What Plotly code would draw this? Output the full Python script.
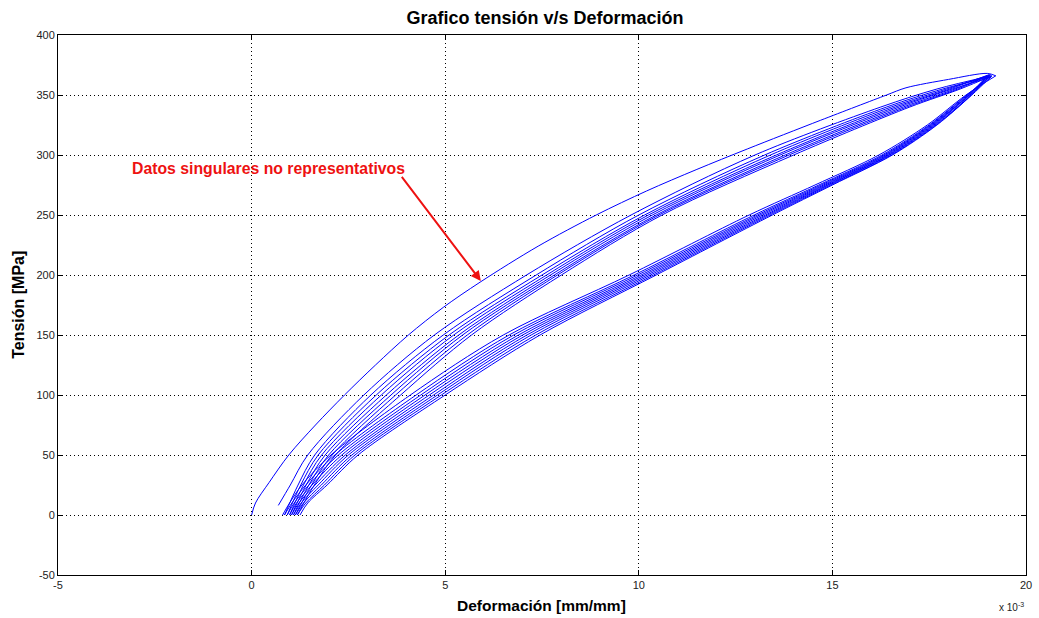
import plotly.graph_objects as go

# ---------------- data (strain in units of 1e-3 mm/mm, stress in MPa) -------------
# first (outer) loading curve
first_load_strain = [0, 0.10, 0.45, 0.96, 1.65, 2.4, 3.2, 4.05, 4.95, 5.9, 7.4, 8.9,
                     10.2, 11.5, 12.8, 14.7, 16.4, 16.9, 18.0, 19.0, 19.22]
first_load_stress = [0, 10, 27, 50, 75, 100, 125, 150, 173, 194, 224, 250,
                     270, 288, 305, 329, 350, 356, 363, 368, 366]

# later loading curves, read at these stress levels
load_levels = [25, 50, 100, 150, 200, 250, 300, 340, 355]
load_start_strain = [0.69, 0.85, 0.92, 0.98, 1.03, 1.08, 1.13, 1.18]
load_start_stress = [8, 0, 0, 0, 0, 0, 0, 0]
load_L2 = [1.00, 1.45, 2.90, 4.72, 7.10, 9.80, 13.00, 16.25, 17.70]
load_L3 = [1.20, 1.63, 3.08, 4.95, 7.35, 10.00, 13.25, 16.40, 17.85]
load_L4 = [1.27, 1.72, 3.22, 5.10, 7.50, 10.15, 13.40, 16.52, 17.95]
load_L5 = [1.34, 1.81, 3.35, 5.22, 7.62, 10.25, 13.55, 16.63, 18.03]
load_L6 = [1.41, 1.90, 3.48, 5.35, 7.72, 10.35, 13.65, 16.73, 18.10]
load_L7 = [1.48, 1.99, 3.60, 5.45, 7.82, 10.45, 13.78, 16.83, 18.17]
load_L8 = [1.55, 2.08, 3.72, 5.57, 7.90, 10.52, 13.88, 16.92, 18.24]
load_L9 = [1.62, 2.17, 3.85, 5.68, 8.00, 10.60, 14.00, 17.00, 18.30]
loading_curves = [load_L2, load_L3, load_L4, load_L5, load_L6, load_L7, load_L8, load_L9]

# peak (tip) of each cycle
tip_strain = [19.22, 19.10, 19.05, 19.00, 19.05, 19.10, 19.00, 19.08, 19.12]
tip_stress = [366, 366, 365, 366, 367, 365, 366, 367, 366]

# unloading curves, read at these stress levels
unload_levels = [350, 325, 300, 275, 250, 200, 150, 100, 50, 25, 10]
unload_U1 = [18.45, 17.45, 16.20, 14.55, 12.85, 9.75, 6.50, 4.10, 2.05, 1.30, 0.98]
unload_U2 = [18.47, 17.50, 16.28, 14.65, 12.98, 9.88, 6.65, 4.25, 2.15, 1.40, 1.04]
unload_U3 = [18.49, 17.53, 16.33, 14.71, 13.06, 9.97, 6.77, 4.37, 2.24, 1.48, 1.10]
unload_U4 = [18.51, 17.56, 16.37, 14.77, 13.13, 10.06, 6.89, 4.48, 2.33, 1.56, 1.16]
unload_U5 = [18.53, 17.59, 16.41, 14.82, 13.20, 10.14, 7.00, 4.59, 2.42, 1.64, 1.22]
unload_U6 = [18.55, 17.62, 16.45, 14.87, 13.27, 10.22, 7.11, 4.70, 2.50, 1.72, 1.28]
unload_U7 = [18.57, 17.65, 16.48, 14.91, 13.33, 10.30, 7.22, 4.80, 2.59, 1.80, 1.34]
unload_U8 = [18.59, 17.68, 16.52, 14.96, 13.39, 10.38, 7.34, 4.90, 2.67, 1.88, 1.40]
unload_U9 = [18.60, 17.70, 16.55, 15.00, 13.45, 10.45, 7.45, 5.00, 2.75, 1.95, 1.45]
unloading_curves = [unload_U1, unload_U2, unload_U3, unload_U4, unload_U5,
                    unload_U6, unload_U7, unload_U8, unload_U9]
unload_end_strain = [0.80, 0.85, 0.92, 0.98, 1.03, 1.08, 1.13, 1.18, 1.25]
unload_end_stress = [0, 0, 0, 0, 0, 0, 0, 0, 0]

x_ticks = [-5, 0, 5, 10, 15, 20]
y_ticks = [-50, 0, 50, 100, 150, 200, 250, 300, 350, 400]

# ---------------- figure ----------------
BLUE = "rgb(0,0,255)"
fig = go.Figure()

def add_curve(xs, ys):
    fig.add_trace(go.Scatter(x=xs, y=ys, mode="lines",
                             line=dict(color=BLUE, width=1, shape="spline", smoothing=0.9),
                             showlegend=False, hoverinfo="skip"))

# first loading
add_curve(first_load_strain, first_load_stress)
# unloading curves
for i, u in enumerate(unloading_curves):
    add_curve([tip_strain[i]] + u + [unload_end_strain[i]],
              [tip_stress[i]] + unload_levels + [unload_end_stress[i]])
# reloading curves
for i, l in enumerate(loading_curves):
    add_curve([load_start_strain[i]] + l + [tip_strain[i + 1]],
              [load_start_stress[i]] + load_levels + [tip_stress[i + 1]])

FONT = "Liberation Sans, Arial, Helvetica, sans-serif"
axis_common = dict(showline=True, linecolor="black", linewidth=1, mirror="allticks",
                   ticks="inside", ticklen=5, tickcolor="black",
                   showgrid=True, gridcolor="black", gridwidth=1, griddash="1px,3px",
                   zeroline=False, tickfont=dict(family=FONT, size=11, color="#222"))

fig.update_xaxes(range=[-5, 20], tickvals=x_ticks, ticktext=[str(v) for v in x_ticks],
                 **axis_common)
fig.update_yaxes(range=[-50, 400], tickvals=y_ticks, ticktext=[str(v) for v in y_ticks],
                 **axis_common)

fig.update_layout(
    width=1039, height=618,
    margin=dict(l=58, r=7, t=35, b=43),
    paper_bgcolor="white", plot_bgcolor="white",
    font=dict(family=FONT, color="black"),
    title=dict(text="<b>Grafico tensión v/s Deformación</b>", x=0.5245, xanchor="center",
               y=0.972, yanchor="middle", font=dict(family=FONT, size=18, color="black")),
    annotations=[
        dict(text="<b>Deformación [mm/mm]</b>", xref="paper", yref="paper",
             x=0.499, y=-0.056, xanchor="center", yanchor="middle", showarrow=False,
             font=dict(family=FONT, size=15.5, color="black")),
        dict(text="<b>Tensión [MPa]</b>", xref="paper", yref="paper",
             x=-0.0415, y=0.5, xanchor="center", yanchor="middle", textangle=-90,
             showarrow=False, font=dict(family=FONT, size=16, color="black")),
        dict(text="x 10<sup>-3</sup>", xref="paper", yref="paper",
             x=1.0, y=-0.06, xanchor="right", yanchor="middle", showarrow=False,
             font=dict(family=FONT, size=10, color="#222")),
        dict(text="<b>Datos singulares no representativos</b>", xref="x", yref="y",
             x=0.43, y=289, xanchor="center", yanchor="middle", showarrow=False,
             font=dict(family=FONT, size=15.8, color="#ee1111")),
        dict(text="", xref="x", yref="y", x=5.92, y=195, axref="x", ayref="y",
             ax=3.85, ay=283, showarrow=True, arrowhead=2, arrowsize=1,
             arrowwidth=2, arrowcolor="#ee1111"),
    ],
)

fig.write_html("out.html")
